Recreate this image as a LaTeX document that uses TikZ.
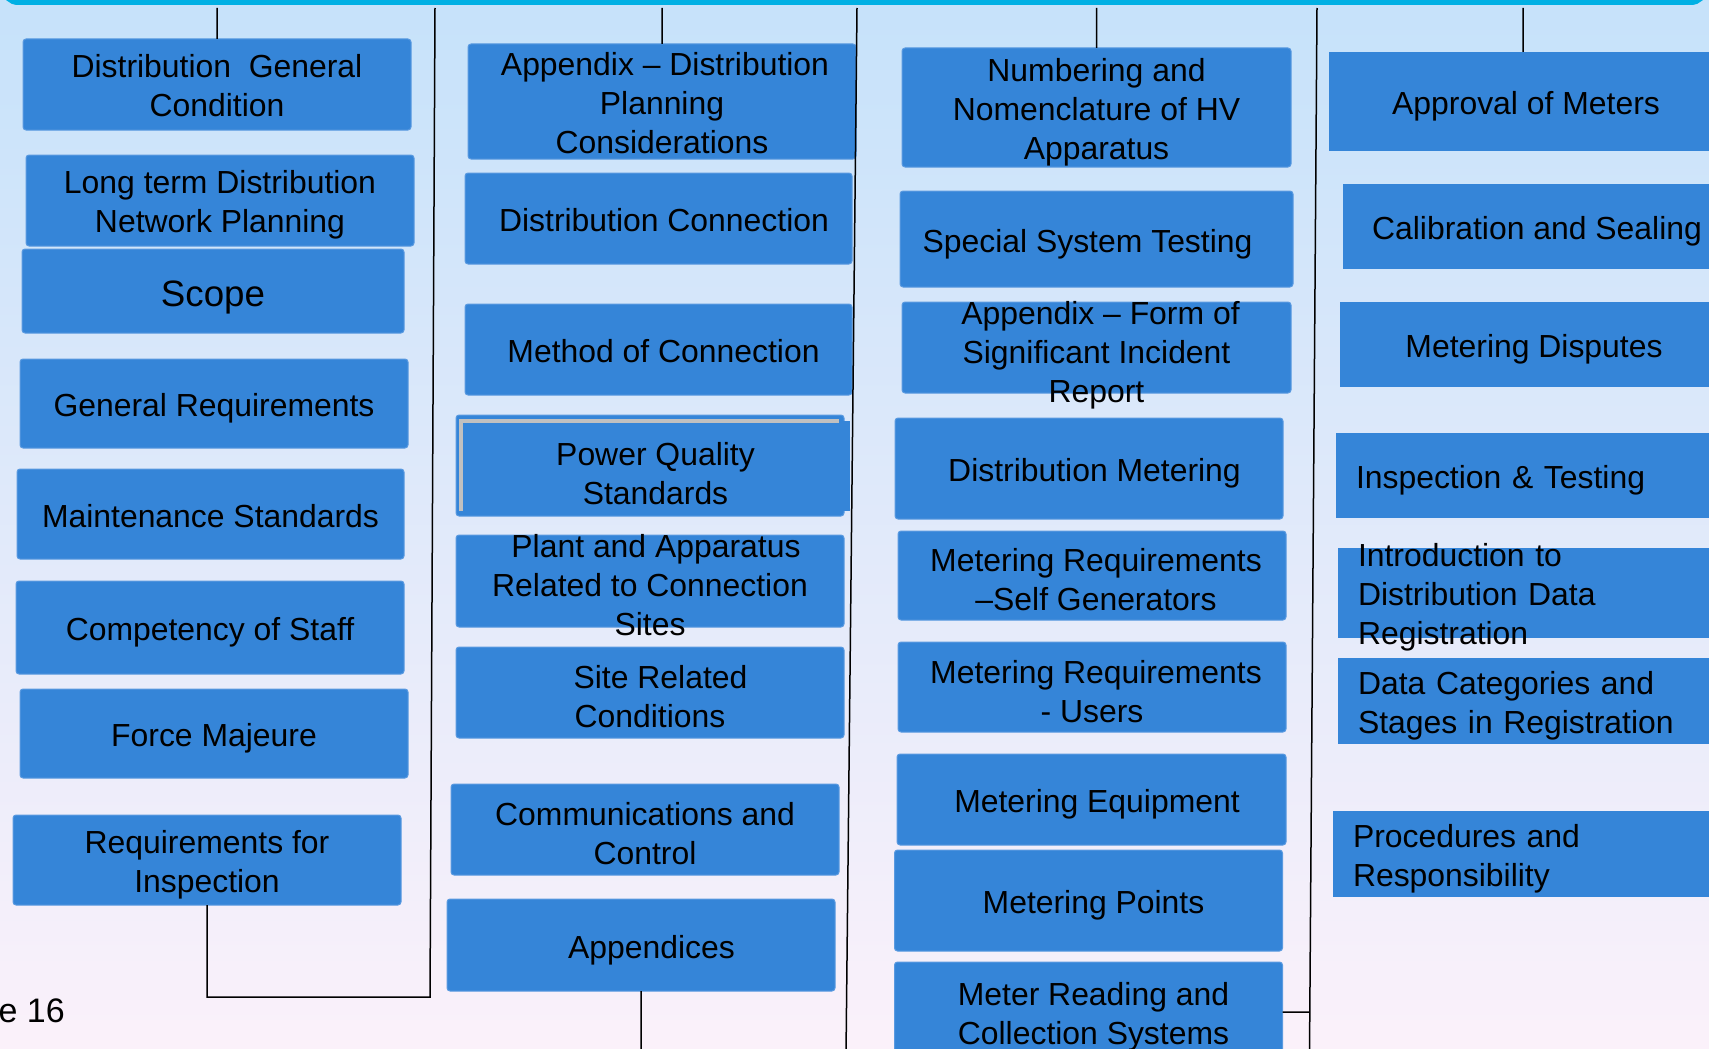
\documentclass[tikz,border=0pt]{standalone}
\usepackage{fontspec}
\setmainfont{Liberation Sans}
\usetikzlibrary{positioning, calc}

\definecolor{boxblue}{RGB}{53,133,216}
\definecolor{boxedge}{RGB}{90,154,224}
\definecolor{bgtop}{RGB}{198,226,250}
\definecolor{bgmid}{RGB}{222,231,246}
\definecolor{bgbot}{RGB}{251,241,250}
\definecolor{topbar}{RGB}{0,176,228}
\definecolor{pqsgray}{RGB}{192,192,192}

\newcommand\topicfont{\fontsize{31.9}{39}\selectfont}
\newcommand\scopefont{\fontsize{36.7}{44}\selectfont}

\tikzset{
  topic/.style={draw=boxedge, line width=1pt, fill=boxblue, rounded corners=3pt,
    minimum width=388pt, inner sep=0pt, outer sep=0pt, align=center, font=\topicfont},
  side/.style={fill=boxblue, minimum width=388pt, inner sep=0pt, outer sep=0pt, align=center, font=\topicfont},
  sideleft/.style={side, text width=348pt, inner xsep=20pt, align=left},
  oneline/.style={text height=28pt, text depth=2pt},
  nudge/.style={execute at begin node={\hspace*{#1}}},
  words/.style={inner sep=0pt, align=center, font=\topicfont, yshift=-4.5pt},
  wordsleft/.style={words, text width=348pt, align=left},
  link/.style={draw=black, line width=1.5pt},
}

\begin{document}
\begin{tikzpicture}[x=1pt, y=-1pt]
    \useasboundingbox (0,0) rectangle (1709,1049);
    \shade[top color=bgtop, middle color=bgmid, bottom color=bgbot] (0,0) rectangle (1709,1049);
    \draw[topbar, line width=5pt, rounded corners=14pt] (4,-40) rectangle (1705,2.5);

        % general conditions
        \node[topic, minimum height=91pt] (dgc) at (217,84.5) {};
        \node[words, yshift=3.3pt] (dgc-t) at (dgc) {Distribution~ General\\Condition};
        \node[topic, minimum height=91pt, below=25pt of dgc, xshift=3pt] (ltd) {};
        \node[words] (ltd-t) at (ltd) {Long term Distribution\\Network Planning};
        \node[topic, minimum width=382pt, minimum height=84pt, below=3pt of ltd, xshift=-7pt, font=\scopefont, text height=30pt, text depth=0pt] (scope) {Scope};
        \node[topic, oneline, minimum height=89pt, below=26pt of scope, xshift=1pt] (gr) {General Requirements};
        \node[topic, oneline, minimum width=387pt, minimum height=90pt, below=21pt of gr, xshift=-3.5pt] (ms) {Maintenance Standards};
        \node[topic, oneline, minimum height=93pt, below=22pt of ms, xshift=-0.5pt] (cs) {Competency of Staff};
        \node[topic, oneline, minimum height=89pt, below=15pt of cs, xshift=4pt] (fm) {Force Majeure};
        \node[topic, minimum height=90pt, below=37pt of fm, xshift=-7pt] (ri) {};
        \node[words] (ri-t) at (ri) {Requirements for\\Inspection};

        % connection
        \node[topic, minimum height=115pt] (adpc) at (662,101.5) {};
        \node[words, yshift=3.3pt] (adpc-t) at (adpc) {\hspace*{6pt}Appendix -- Distribution\\Planning\\Considerations};
        \node[topic, oneline, nudge=11pt, minimum width=387pt, minimum height=91pt, below=14pt of adpc, xshift=-3.5pt] (dc) {Distribution Connection};
        \node[topic, oneline, nudge=10pt, minimum width=387pt, minimum height=91pt, below=40pt of dc] (mc) {Method of Connection};
        \node[topic, minimum height=101pt, below=20pt of mc, xshift=-8.5pt] (pqs) {};
        \node[side, minimum width=389pt, minimum height=90pt] (pqsin) at ($(pqs.center)+(5.5,0.5)$) {};
        \draw[pqsgray, line width=4pt] (pqsin.south west) -- (pqsin.north west) -- ($(pqsin.north east)+(-11,0)$);
        \node[words, yshift=-3.1pt] (pqs-t) at (pqsin) {Power Quality\\Standards};
        \node[topic, minimum height=92pt, below=19pt of pqs] (par) {};
        \node[words] (par-t) at (par) {\hspace*{12pt}Plant and Apparatus\\Related to Connection\\Sites};
        \node[topic, minimum height=91pt, below=20pt of par] (src) {};
        \node[words] (src-t) at (src) {\hspace*{21pt}Site Related\\Conditions};
        \node[topic, minimum height=91pt, below=46pt of src, xshift=-5pt] (cc) {};
        \node[words] (cc-t) at (cc) {Communications and\\Control};
        \node[topic, oneline, nudge=21pt, minimum height=92pt, below=24pt of cc, xshift=-4pt] (app) {Appendices};

        % operation and metering
        \node[topic, minimum width=389pt, minimum height=119pt] (nn) at (1096.5,107.5) {};
        \node[words] (nn-t) at (nn) {Numbering and\\Nomenclature of HV\\Apparatus};
        \node[topic, oneline, minimum width=393pt, minimum height=96pt, below=24pt of nn] (sst) {Special System Testing\hspace{18pt}};
        \node[topic, minimum width=389pt, minimum height=91pt, below=15pt of sst] (afsir) {};
        \node[words, yshift=-3.3pt] (afsir-t) at (afsir) {\hspace*{8pt}Appendix -- Form of\\Significant Incident\\Report};
        \node[topic, oneline, nudge=11pt, minimum height=101pt, below=25pt of afsir, xshift=-7.5pt] (dm) {Distribution Metering};
        \node[topic, minimum height=89pt, below=12pt of dm, xshift=3pt] (mrsg) {};
        \node[words] (mrsg-t) at (mrsg) {\hspace*{8pt}Metering Requirements\\\hspace*{8pt}--Self Generators};
        \node[topic, minimum height=90pt, below=22pt of mrsg] (mru) {};
        \node[words] (mru-t) at (mru) {\hspace*{8pt}Metering Requirements\\- Users};
        \node[topic, oneline, nudge=11pt, minimum width=389pt, minimum height=91pt, below=22pt of mru, xshift=-0.5pt] (me) {Metering Equipment};
        \node[topic, oneline, nudge=10pt, minimum height=101pt, below=5pt of me, xshift=-3pt] (mp) {Metering Points};
        \node[topic, minimum height=100pt, below=11pt of mp] (mrcs) {};
        \node[words] (mrcs-t) at (mrcs) {\hspace*{10pt}Meter Reading and\\\hspace*{10pt}Collection Systems};

        % meters and data registration
        \node[side, oneline, nudge=6pt, minimum height=99pt] (am) at (1523,101.5) {Approval of Meters};
        \node[side, oneline, minimum height=85pt, below=33pt of am, xshift=14pt] (cse) {Calibration and Sealing};
        \node[side, oneline, minimum height=85pt, below=33pt of cse, xshift=-3pt] (md) {Metering Disputes};
        \node[sideleft, oneline, minimum height=85pt, below=46pt of md, xshift=-4pt] (it) {Inspection \& Testing};
        \node[side, minimum height=90pt, below=30pt of it, xshift=2pt] (iddr) {};
        \node[wordsleft] (iddr-t) at (iddr) {Introduction to\\Distribution Data\\Registration};
        \node[side, minimum height=86pt, below=20pt of iddr] (dcsr) {};
        \node[wordsleft] (dcsr-t) at (dcsr) {Data Categories and\\Stages in Registration};
        \node[side, minimum height=86pt, below=67pt of dcsr, xshift=-5pt] (pr) {};
        \node[wordsleft] (pr-t) at (pr) {Procedures and\\Responsibility};

        \node[font=\fontsize{34}{40}\selectfont, anchor=base east, inner sep=0pt] (pg) at (65,1022) {e 16};

        % connectors
        \coordinate (top) at (0,8);
        \coordinate (r1top) at (435,8);
        \coordinate (r1bot) at (430,997);
        \coordinate (r2top) at (857,8);
        \coordinate (r2bot) at (846,1055);
        \coordinate (r3top) at (1317,8);
        \coordinate (r3bot) at (1309.5,1055);

        \draw[link] (dgc.north) -- (dgc.north |- top)
        (adpc.north) -- (adpc.north |- top)
        (nn.north) -- (nn.north |- top)
        (am.north) -- (am.north |- top)
        (ri.south) |- (r1bot) -- (r1top)
        (r2top) -- (r2bot)
        (app.south) -- (app.south |- r2bot)
        (r3top) -- (r3bot)
        (mrcs.east) -- ++(27,0)
        ;
\end{tikzpicture}
\end{document}
